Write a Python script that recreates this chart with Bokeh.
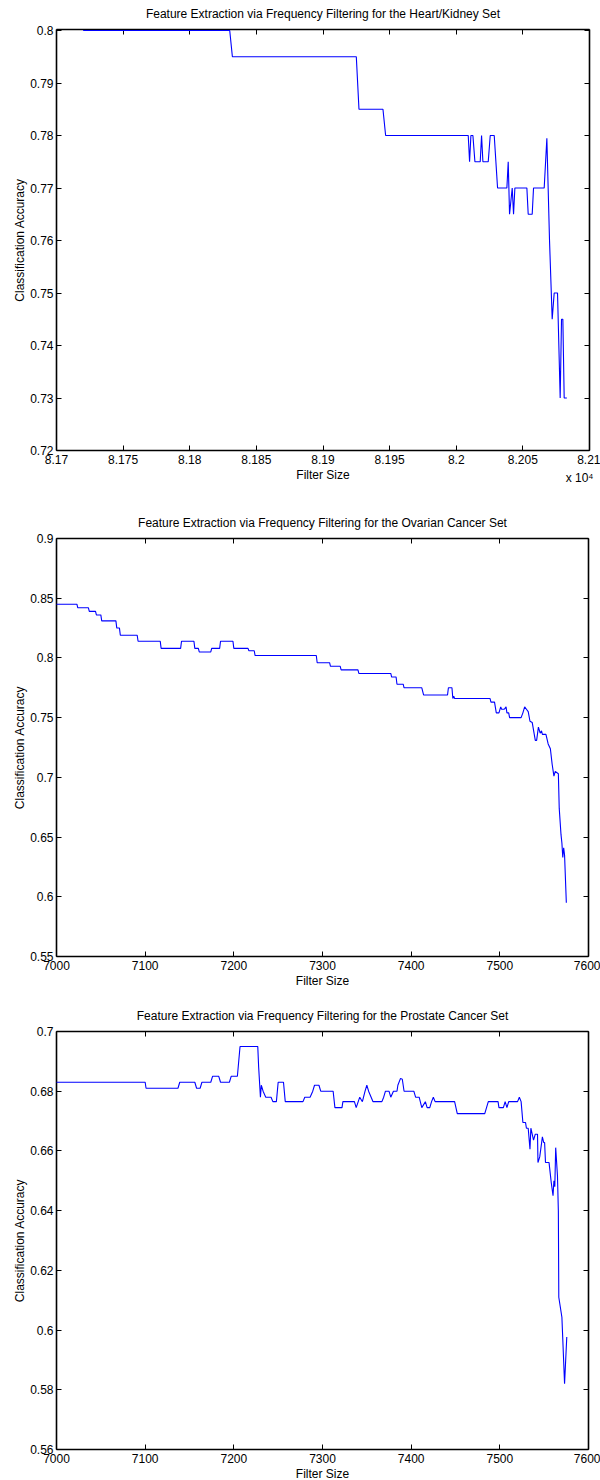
from bokeh.plotting import figure
from bokeh.models import Range1d, LinearAxis, FixedTicker, Title, CustomLabelingPolicy
from bokeh.layouts import column
from bokeh.embed import file_html
from bokeh.resources import INLINE

FONT = "Liberation Sans"

# ---------------- data ----------------
hk_title = "Feature Extraction via Frequency Filtering for the Heart/Kidney Set"
hk_x = [81720, 81830, 81832, 81925, 81927, 81945, 81947, 82009, 82010, 82011,
        82012.5, 82014, 82018, 82019, 82020, 82024, 82025.5, 82028.5, 82031, 82038,
        82039, 82040, 82042, 82043, 82044, 82053, 82054, 82057, 82058, 82066,
        82068, 82070, 82072, 82073.5, 82076, 82078, 82079, 82080, 82081, 82083]
hk_y = [0.800, 0.800, 0.795, 0.795, 0.785, 0.785, 0.780, 0.780, 0.775, 0.780,
        0.780, 0.775, 0.775, 0.780, 0.775, 0.775, 0.780, 0.780, 0.770, 0.770,
        0.775, 0.765, 0.770, 0.765, 0.770, 0.770, 0.765, 0.765, 0.770, 0.770,
        0.7795, 0.760, 0.745, 0.750, 0.750, 0.730, 0.745, 0.745, 0.730, 0.730]
hk_xticks = [81700, 81750, 81800, 81850, 81900, 81950, 82000, 82050, 82100]
hk_xtick_labels = ["8.17", "8.175", "8.18", "8.185", "8.19", "8.195", "8.2", "8.205", "8.21"]
hk_yticks = [0.72, 0.73, 0.74, 0.75, 0.76, 0.77, 0.78, 0.79, 0.80]
hk_ytick_labels = ["0.72", "0.73", "0.74", "0.75", "0.76", "0.77", "0.78", "0.79", "0.8"]
hk_x_exponent = "x 10\u2074"

ov_title = "Feature Extraction via Frequency Filtering for the Ovarian Cancer Set"
ov_x = [7000, 7023, 7024, 7036, 7037, 7044, 7045, 7050, 7051, 7067,
        7068, 7071, 7072, 7091, 7092, 7117, 7118, 7140, 7141, 7155,
        7156, 7160, 7161, 7174, 7175, 7184, 7185, 7199, 7200, 7216,
        7217, 7223, 7224, 7293, 7294, 7308, 7309, 7320, 7321, 7340,
        7341, 7377, 7378, 7383, 7384, 7391, 7392, 7412, 7414, 7441,
        7442, 7446, 7447, 7448, 7449, 7489, 7490, 7494, 7496, 7499,
        7501, 7502, 7505, 7507, 7508, 7510, 7511, 7524, 7526, 7528,
        7530, 7532, 7534, 7536.5, 7540, 7541.5, 7543.5, 7545.5, 7547, 7548,
        7552, 7554.5, 7557, 7559, 7561, 7562.5, 7566, 7567, 7569, 7570,
        7571, 7572, 7573, 7575]
ov_y = [0.845, 0.845, 0.842, 0.842, 0.839, 0.839, 0.836, 0.836, 0.831, 0.831,
        0.825, 0.825, 0.819, 0.819, 0.814, 0.814, 0.808, 0.808, 0.814, 0.814,
        0.808, 0.808, 0.805, 0.805, 0.808, 0.808, 0.814, 0.814, 0.808, 0.808,
        0.806, 0.806, 0.802, 0.802, 0.796, 0.796, 0.793, 0.793, 0.790, 0.790,
        0.787, 0.787, 0.784, 0.784, 0.778, 0.778, 0.775, 0.775, 0.769, 0.769,
        0.775, 0.775, 0.766, 0.768, 0.766, 0.766, 0.763, 0.763, 0.754, 0.754,
        0.759, 0.757, 0.757, 0.759, 0.754, 0.754, 0.750, 0.750, 0.754, 0.759,
        0.757, 0.755, 0.747, 0.746, 0.731, 0.731, 0.742, 0.737, 0.739, 0.736,
        0.736, 0.728, 0.724, 0.711, 0.701, 0.705, 0.703, 0.674, 0.652, 0.645,
        0.633, 0.641, 0.635, 0.595]
ov_xticks = [7000, 7100, 7200, 7300, 7400, 7500, 7600]
ov_xtick_labels = ["7000", "7100", "7200", "7300", "7400", "7500", "7600"]
ov_yticks = [0.55, 0.60, 0.65, 0.70, 0.75, 0.80, 0.85, 0.90]
ov_ytick_labels = ["0.55", "0.6", "0.65", "0.7", "0.75", "0.8", "0.85", "0.9"]

pr_title = "Feature Extraction via Frequency Filtering for the Prostate Cancer Set"
pr_x = [7000, 7100, 7101, 7137, 7139, 7156, 7158, 7162, 7164, 7174,
        7176, 7183, 7185, 7195, 7197, 7204, 7207, 7227, 7228, 7230,
        7231, 7233, 7236, 7242, 7244, 7248, 7250, 7256, 7258, 7278,
        7280, 7286, 7289, 7291, 7296, 7298, 7312, 7314, 7322, 7323,
        7336, 7338, 7342, 7345, 7348, 7350, 7352, 7357, 7367, 7369,
        7371, 7375, 7377, 7380, 7384, 7385, 7388, 7390, 7392, 7403,
        7405, 7409, 7412, 7416, 7418, 7421, 7423, 7425, 7427, 7449,
        7452, 7483, 7485, 7487, 7498, 7499, 7504, 7506, 7508, 7510,
        7520, 7522, 7524, 7526, 7529, 7530, 7532, 7534, 7535, 7536.5,
        7538, 7540, 7542.5, 7543, 7545, 7548, 7549.5, 7550.5, 7551.5, 7555.5,
        7558, 7560, 7561, 7562, 7563, 7565, 7566, 7566.5, 7570, 7573,
        7575.5]
pr_y = [0.683, 0.683, 0.681, 0.681, 0.683, 0.683, 0.681, 0.681, 0.683, 0.683,
        0.685, 0.685, 0.683, 0.683, 0.685, 0.685, 0.695, 0.695, 0.688, 0.678,
        0.682, 0.680, 0.678, 0.678, 0.6765, 0.6765, 0.683, 0.683, 0.6765, 0.6765,
        0.678, 0.678, 0.680, 0.682, 0.682, 0.680, 0.680, 0.6745, 0.6745, 0.6765,
        0.6765, 0.6745, 0.678, 0.6765, 0.680, 0.682, 0.680, 0.6765, 0.6765, 0.678,
        0.680, 0.680, 0.678, 0.680, 0.680, 0.682, 0.6843, 0.684, 0.680, 0.680,
        0.678, 0.678, 0.6745, 0.6765, 0.6745, 0.6745, 0.6765, 0.678, 0.6765, 0.6765,
        0.6725, 0.6725, 0.6745, 0.6765, 0.6765, 0.6745, 0.6745, 0.6765, 0.6745, 0.6765,
        0.6765, 0.678, 0.6765, 0.6695, 0.6695, 0.6676, 0.6676, 0.6606, 0.6676, 0.6656,
        0.6636, 0.6656, 0.6656, 0.6561, 0.658, 0.6647, 0.6628, 0.6628, 0.6561, 0.6561,
        0.6494, 0.645, 0.650, 0.648, 0.6611, 0.6517, 0.640, 0.611, 0.6043, 0.582,
        0.5977]
pr_xticks = [7000, 7100, 7200, 7300, 7400, 7500, 7600]
pr_xtick_labels = ["7000", "7100", "7200", "7300", "7400", "7500", "7600"]
pr_yticks = [0.56, 0.58, 0.60, 0.62, 0.64, 0.66, 0.68, 0.70]
pr_ytick_labels = ["0.56", "0.58", "0.6", "0.62", "0.64", "0.66", "0.68", "0.7"]

x_label = "Filter Size"
y_label = "Classification Accuracy"

HIDE_LABELS = "for (const i of indices) { indices.unset(i) }\nreturn indices"


def style_axis(ax, ticks, labels, show, dim):
    ax.ticker = FixedTicker(ticks=ticks, minor_ticks=[])
    ax.major_tick_in = 5
    ax.major_tick_out = 0
    ax.minor_tick_in = 0
    ax.minor_tick_out = 0
    ax.axis_line_color = "black"
    ax.axis_line_width = 1.6
    ax.major_tick_line_color = "black"
    ax.major_tick_line_width = 1
    if show:
        ax.major_label_overrides = {t: l for t, l in zip(ticks, labels)}
        ax.major_label_text_font = FONT
        ax.major_label_text_font_size = "12px"
        ax.major_label_text_color = "black"
        ax.axis_label_text_font = FONT
        ax.axis_label_text_font_size = "12px"
        ax.axis_label_text_font_style = "normal"
        ax.axis_label_text_color = "black"
        if dim == "x":
            ax.major_label_standoff = 4
            ax.axis_label_standoff = 1
        else:
            ax.major_label_standoff = 3
            ax.axis_label_standoff = 0
    else:
        ax.major_label_policy = CustomLabelingPolicy(code=HIDE_LABELS)
        ax.major_label_text_font_size = "1px"
        ax.major_label_standoff = 0


def make_panel(title, xs, ys, xr, yr, xt, xl, yt, yl, left, right, top, bottom, fh):
    p = figure(frame_width=600 - left - right, frame_height=fh,
               min_border_left=left, min_border_right=right,
               min_border_top=top, min_border_bottom=bottom,
               x_range=Range1d(*xr), y_range=Range1d(*yr),
               x_axis_label=x_label, y_axis_label=y_label,
               output_backend="svg", toolbar_location=None, title=None)
    p.outline_line_color = None
    p.xgrid.grid_line_color = None
    p.ygrid.grid_line_color = None
    p.background_fill_color = "white"
    p.border_fill_color = "white"
    style_axis(p.xaxis[0], xt, xl, True, "x")
    style_axis(p.yaxis[0], yt, yl, True, "y")
    ra = LinearAxis()
    style_axis(ra, yt, yl, False, "y")
    p.add_layout(ra, "right")
    ta = LinearAxis()
    style_axis(ta, xt, xl, False, "x")
    p.add_layout(ta, "above")
    t = Title(text=title, align="center", text_font=FONT, text_font_size="12px",
              text_font_style="normal", text_color="black", standoff=9)
    p.add_layout(t, "above")
    r = p.line(xs, ys, line_color="#0000ff", line_width=1.1)
    r.level = "overlay"
    return p


p1 = make_panel(hk_title, hk_x, hk_y, (81700, 82100), (0.72, 0.8002),
                hk_xticks, hk_xtick_labels, hk_yticks, hk_ytick_labels,
                54, 13, 28, 52, 421)
p1.add_layout(Title(text=hk_x_exponent, align="right", vertical_align="top",
                    standoff=-28, offset=-4, text_font=FONT, text_font_size="12px",
                    text_font_style="normal", text_color="black"), "below")

p2 = make_panel(ov_title, ov_x, ov_y, (7000, 7600), (0.55, 0.90),
                ov_xticks, ov_xtick_labels, ov_yticks, ov_ytick_labels,
                54, 14, 36, 46, 418)
p3 = make_panel(pr_title, pr_x, pr_y, (7000, 7600), (0.56, 0.70),
                pr_xticks, pr_xtick_labels, pr_yticks, pr_ytick_labels,
                56, 12, 27, 34, 418)

layout = column(p1, p2, p3, spacing=0)
open("out.html", "w").write(file_html(layout, INLINE))
